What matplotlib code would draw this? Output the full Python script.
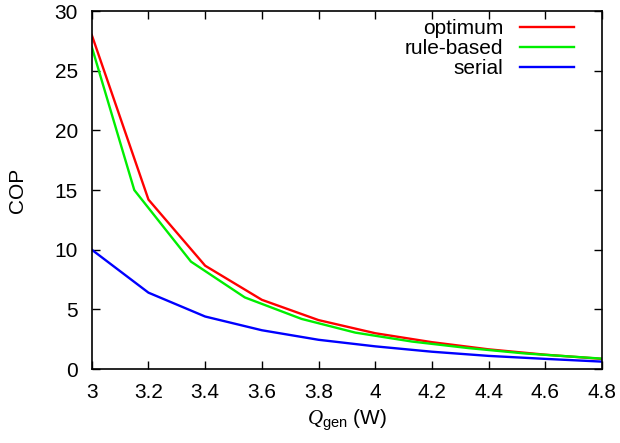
import matplotlib
matplotlib.use('Agg')
import matplotlib.pyplot as plt

# data
x_opt = [3.0, 3.2, 3.4, 3.6, 3.8, 4.0, 4.2, 4.4, 4.6, 4.8]
cop_opt = [28.0, 14.2, 8.66, 5.8, 4.1, 3.0, 2.25, 1.65, 1.2, 0.85]

x_rule = [3.0, 3.15, 3.35, 3.54, 3.74, 3.93, 4.13, 4.33, 4.53, 4.8]
cop_rule = [27.0, 15.0, 9.0, 6.0, 4.2, 3.05, 2.3, 1.75, 1.3, 0.87]

x_serial = [3.0, 3.2, 3.4, 3.6, 3.8, 4.0, 4.2, 4.4, 4.6, 4.8]
cop_serial = [10.0, 6.4, 4.4, 3.25, 2.45, 1.9, 1.45, 1.1, 0.85, 0.62]

xticks = [3, 3.2, 3.4, 3.6, 3.8, 4, 4.2, 4.4, 4.6, 4.8]
xticklabels = ['3', '3.2', '3.4', '3.6', '3.8', '4', '4.2', '4.4', '4.6', '4.8']
yticks = [0, 5, 10, 15, 20, 25, 30]

plt.rcParams['font.family'] = ['Liberation Sans', 'DejaVu Sans']
plt.rcParams['mathtext.fontset'] = 'custom'
plt.rcParams['mathtext.rm'] = 'Liberation Sans'
plt.rcParams['mathtext.it'] = 'Liberation Serif:italic'

fig = plt.figure(figsize=(6.2, 4.43), dpi=100)
ax = fig.add_axes([0.148, 0.167, 0.823, 0.808])

ax.plot(x_opt, cop_opt, color='#ff0000', lw=1.7, label='optimum')
ax.plot(x_rule, cop_rule, color='#00ee00', lw=1.7, label='rule-based')
ax.plot(x_serial, cop_serial, color='#0000ff', lw=1.7, label='serial')

ax.set_xlim(3, 4.8)
ax.set_ylim(0, 30)
ax.set_xticks(xticks)
ax.set_xticklabels(xticklabels)
ax.set_yticks(yticks)
ax.tick_params(direction='in', top=True, right=True, labelsize=15, length=6, width=1)
ax.tick_params(axis='x', pad=10)
ax.tick_params(axis='y', pad=10)
for s in ax.spines.values():
    s.set_linewidth(1.2)

ax.set_xlabel(r'$\mathit{Q}_{\mathrm{gen}}$ (W)', fontsize=15, labelpad=4)
ax.set_ylabel('COP', fontsize=15, labelpad=20)

ax.legend(loc='upper right', frameon=False, markerfirst=False, fontsize=15,
          handlelength=2.6, labelspacing=0.05, borderaxespad=0.0, handletextpad=0.8,
          bbox_to_anchor=(0.962, 1.0))

fig.savefig('out.png', dpi=100)
